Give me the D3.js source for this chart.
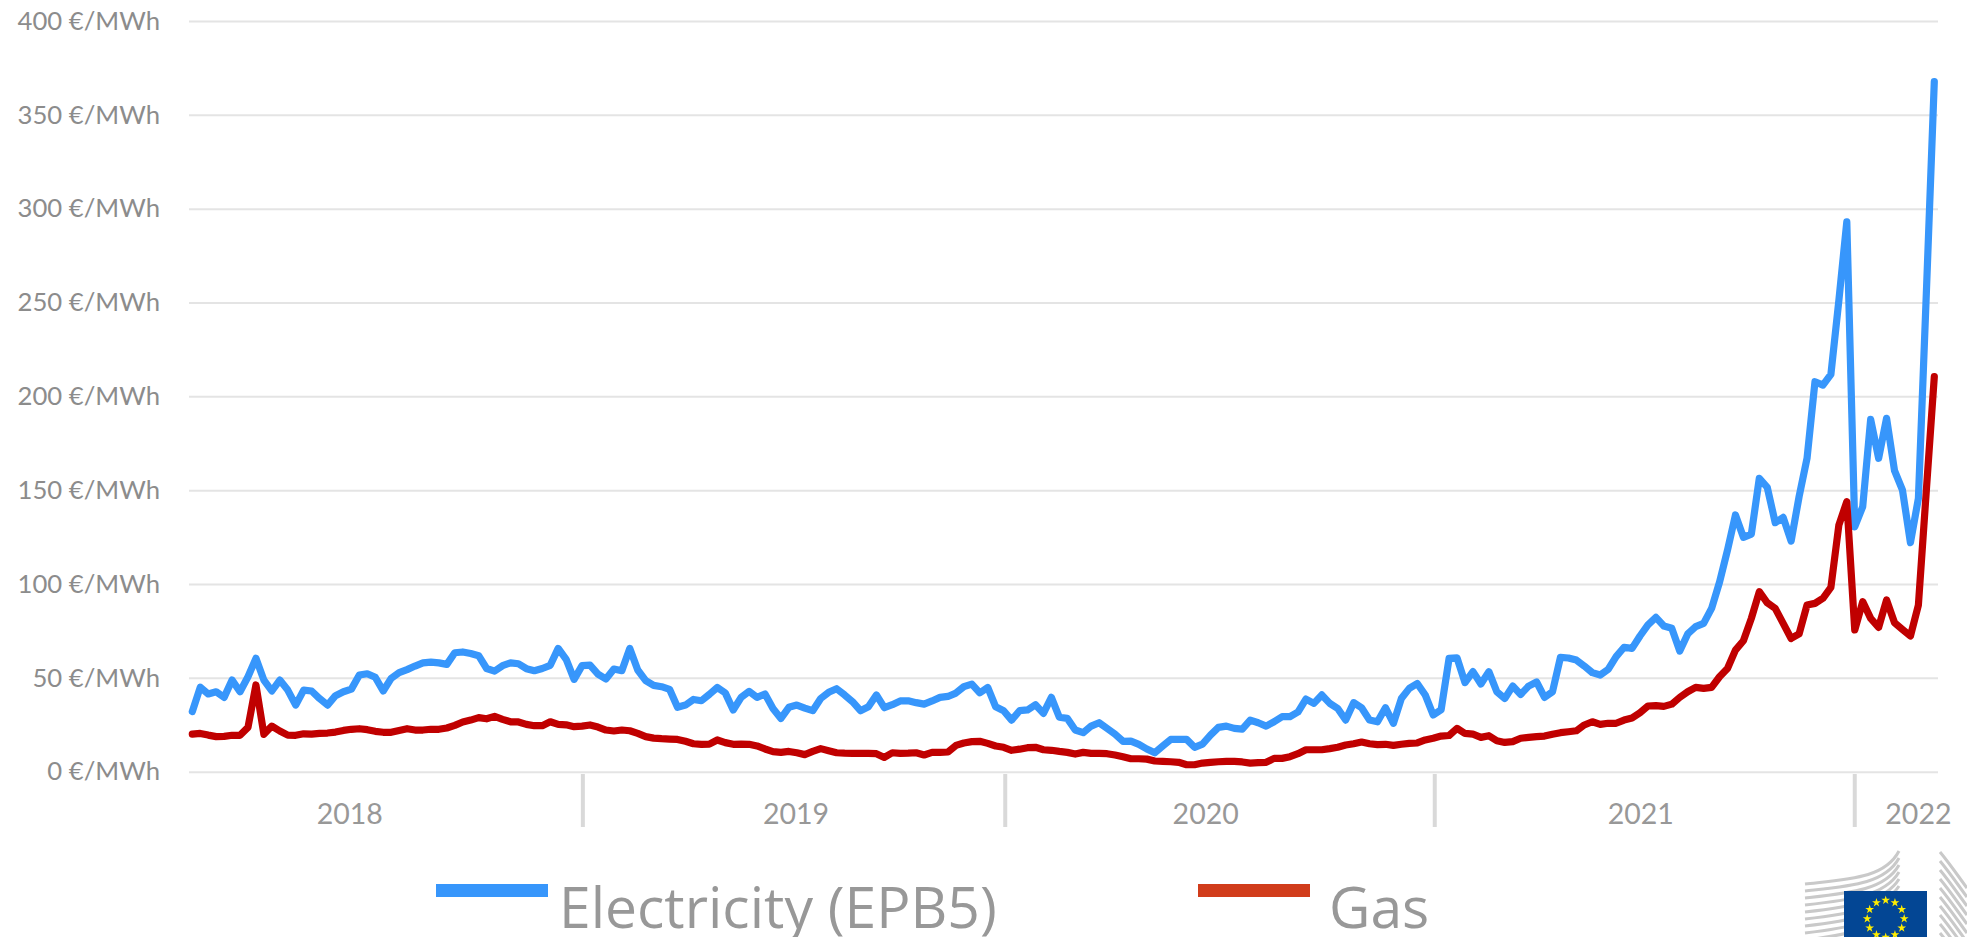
<!DOCTYPE html>
<html>
<head>
<meta charset="utf-8">
<style>
  html, body { margin: 0; padding: 0; background: #fff; overflow: hidden; }
  svg { display: block; }
  .y-axis text { font-family: Lato, sans-serif; font-size: 25.7px; fill: #8c8c8c; }
  .year-label { font-family: Lato, sans-serif; font-size: 28.5px; fill: #989898; text-anchor: middle; }
  .legend-label { font-family: "Open Sans", sans-serif; font-size: 57px; fill: #989898; }
</style>
<script src="https://cdn.jsdelivr.net/npm/d3@7"></script>
</head>
<body>
<div id="chart"></div>
<script>
// weekly prices in EUR/MWh
const electricity = [
  32, 45, 41.4, 42.6, 39.6, 48.8, 42.6, 50.6, 60.4, 48.8,
  43, 48.8, 43.5, 35.5, 43.5, 43, 39, 35.5, 40.5, 42.6,
  44, 51.5, 52.2, 50.3, 43, 49.7, 52.8, 54.4, 56.3, 58,
  58.4, 58, 57.2, 63.4, 63.8, 63, 61.8, 55, 53.6, 56.5,
  58, 57.5, 54.9, 53.8, 55, 56.7, 65.7, 59.9, 49.2, 56.5,
  56.8, 52, 49.4, 54.7, 53.8, 65.7, 54.2, 48.5, 46, 45.3,
  43.9, 34.3, 35.5, 38.5, 37.8, 41.2, 44.9, 42, 32.9, 39.6,
  42.8, 39.6, 41.4, 33.7, 28.4, 34.3, 35.5, 33.9, 32.5, 39,
  42.3, 44.2, 40.9, 37.3, 32.5, 34.6, 40.9, 34.1, 35.7, 37.7,
  37.8, 36.8, 36, 37.7, 39.6, 40.1, 41.9, 45.3, 46.7, 42,
  44.9, 34.6, 32.5, 27.5, 32.5, 32.9, 35.7, 31.1, 39.6, 29,
  28.4, 22.2, 20.8, 24.3, 26.1, 23.1, 20, 16.2, 16.3, 14.6,
  12.1, 10.1, 13.7, 17.2, 17.2, 17.2, 13, 14.7, 19.5, 23.6,
  24.3, 23.1, 22.7, 27.5, 26.1, 24.3, 26.6, 29.3, 29.3, 31.8,
  38.7, 36.4, 40.9, 36.4, 33.7, 27.5, 36.8, 34.1, 27.5, 26.6,
  34.1, 25.8, 39, 44.4, 47, 40.9, 30.2, 33, 60.4, 60.7,
  47.5, 53.3, 46.7, 53.3, 42.6, 39, 45.6, 41.2, 45.6, 47.8,
  39.6, 42.6, 60.9, 60.6, 59.5, 56.3, 52.8, 51.5, 54.5, 61.3,
  66.3, 65.7, 72.3, 78.2, 82.2, 77.6, 76.4, 64.3, 73.4, 77.3,
  79, 87, 101, 118, 136.8, 124.9, 126.6, 156.3, 151.5, 132.7,
  135.5, 122.9, 146.5, 167, 207.8, 206, 211.7, 251, 293, 130.5,
  141.2, 187.7, 167, 188.3, 160.4, 150, 122, 145.6, 255, 367.7
];

const gas = [
  20, 20.4, 19.5, 18.7, 18.8, 19.4, 19.4, 23.6, 46.2, 19.9,
  24.3, 21.7, 19.5, 19.4, 20.2, 20, 20.4, 20.6, 21.1, 22,
  22.6, 22.9, 22.4, 21.5, 21, 21, 22, 22.9, 22.2, 22.2,
  22.6, 22.6, 23.3, 24.7, 26.5, 27.5, 28.8, 28.2, 29.5, 27.9,
  26.6, 26.5, 25.2, 24.5, 24.5, 26.6, 25.2, 25, 24, 24.3,
  24.9, 23.8, 22.2, 21.7, 22.2, 21.8, 20.4, 18.7, 17.9, 17.6,
  17.4, 17.2, 16.2, 14.9, 14.6, 14.7, 16.9, 15.5, 14.6, 14.7,
  14.6, 13.7, 12.1, 10.7, 10.3, 10.8, 10.1, 9.1, 10.8, 12.3,
  11.2, 10.1, 9.9, 9.8, 9.8, 9.8, 9.6, 7.6, 10.1, 9.8,
  9.9, 10.1, 8.9, 10.3, 10.3, 10.5, 14, 15.3, 16, 16.2,
  15.1, 13.7, 13, 11.4, 12, 12.8, 13, 11.7, 11.4, 10.8,
  10.3, 9.4, 10.3, 9.8, 9.8, 9.6, 8.9, 8, 6.9, 6.9,
  6.7, 5.7, 5.5, 5.3, 5, 3.7, 3.7, 4.6, 5, 5.3,
  5.5, 5.5, 5.2, 4.6, 4.8, 5, 7.1, 7.1, 8, 9.6,
  11.7, 11.7, 11.7, 12.3, 13, 14.2, 14.9, 15.8, 14.9, 14.4,
  14.6, 14, 14.6, 15.1, 15.3, 16.9, 17.8, 19, 19.3, 23.1,
  20.4, 20, 18.3, 19.2, 16.5, 15.6, 16, 17.8, 18.3, 18.7,
  19, 20, 20.8, 21.3, 21.8, 24.9, 26.6, 25.2, 25.8, 25.8,
  27.5, 28.6, 31.4, 35, 35.2, 34.8, 36, 39.6, 42.6, 44.9,
  44.4, 44.9, 50.6, 55, 64.8, 69.8, 81.7, 95.9, 90, 87,
  79, 71, 73.4, 88.8, 89.7, 92.4, 98.2, 131.4, 143.9, 75.5,
  90.6, 81.7, 76.9, 91.5, 79.4, 75.8, 72.3, 88.8, 150, 210.5
];

const yTicks = [0, 50, 100, 150, 200, 250, 300, 350, 400];
const yearLabels = ['2018', '2019', '2020', '2021', '2022'];
// week index where each year label is centred, and where the year separators sit
const yearLabelWeeks = [19.8, 75.9, 127.4, 182.1, 217];
const yearBreakWeeks = [49.1, 102.2, 156.2, 209];

const seriesNames = ['Electricity (EPB5)', 'Gas'];
const seriesColors = ['#3796fb', '#c00000'];
const legendColors = ['#3796fb', '#d13c1b'];

const width = 1967;
const height = 937;

const svg = d3.select('#chart')
  .append('svg')
  .attr('width', width)
  .attr('height', height);

const x = d3.scaleLinear().domain([0, electricity.length - 1]).range([192.3, 1934.3]);
const y = d3.scaleLinear().domain([0, 400]).range([771.7, 21]);

// y axis with full width gridlines
const yAxis = svg.append('g')
  .attr('class', 'y-axis')
  .attr('transform', 'translate(189,0)')
  .call(d3.axisLeft(y)
    .tickValues(yTicks)
    .tickSize(-1749)
    .tickPadding(29)
    .tickFormat(d => `${d} €/MWh`));
yAxis.select('.domain').remove();
yAxis.selectAll('.tick line').attr('stroke', '#e4e4e4').attr('stroke-width', 2);

// year separators and labels
svg.append('g')
  .selectAll('line')
  .data(yearBreakWeeks)
  .join('line')
  .attr('x1', d => x(d))
  .attr('x2', d => x(d))
  .attr('y1', 774)
  .attr('y2', 827)
  .attr('stroke', '#d9d9d9')
  .attr('stroke-width', 4);

svg.append('g')
  .selectAll('text')
  .data(yearLabels)
  .join('text')
  .attr('class', 'year-label')
  .attr('x', (d, i) => x(yearLabelWeeks[i]))
  .attr('y', 824)
  .text(d => d);

// the two price lines, gas on top
const line = d3.line()
  .x((d, i) => x(i))
  .y(d => y(d));

svg.append('g')
  .selectAll('path')
  .data([electricity, gas])
  .join('path')
  .attr('d', line)
  .attr('fill', 'none')
  .attr('stroke', (d, i) => seriesColors[i])
  .attr('stroke-width', 7.2)
  .attr('stroke-linejoin', 'round')
  .attr('stroke-linecap', 'round');

// legend
const legendSwatchX = [436, 1198];
const legendTextX = [559, 1329];

svg.append('g')
  .selectAll('rect')
  .data(seriesNames)
  .join('rect')
  .attr('x', (d, i) => legendSwatchX[i])
  .attr('y', 884)
  .attr('width', 112)
  .attr('height', 13)
  .attr('fill', (d, i) => legendColors[i]);

svg.append('g')
  .selectAll('text')
  .data(seriesNames)
  .join('text')
  .attr('class', 'legend-label')
  .attr('x', (d, i) => legendTextX[i])
  .attr('y', 928)
  .text(d => d);

// European Commission logo, cut off by the bottom edge like in the original
const logo = svg.append('g');

d3.range(10).forEach(k => {
  logo.append('path')
    .attr('d', `M1805,${884 + k * 7} C1850,${879 + k * 7} 1885,${878 + k * 6} 1899,${851 + k * 7}`)
    .attr('fill', 'none')
    .attr('stroke', '#c9c9c9')
    .attr('stroke-width', 3);
  logo.append('path')
    .attr('d', `M1940,${852 + k * 9} C1950,${864 + k * 9} 1958,${876 + k * 9} 1967,${888 + k * 9}`)
    .attr('fill', 'none')
    .attr('stroke', '#c9c9c9')
    .attr('stroke-width', 3);
});

logo.append('rect')
  .attr('x', 1844)
  .attr('y', 891)
  .attr('width', 83)
  .attr('height', 46)
  .attr('fill', '#034694');

const star = d3.symbol().type(d3.symbolStar).size(24);
d3.range(12).forEach(k => {
  const a = k * Math.PI / 6;
  logo.append('path')
    .attr('d', star)
    .attr('transform', `translate(${1885.7 + 18.5 * Math.sin(a)},${918.7 - 18.5 * Math.cos(a)})`)
    .attr('fill', '#ffed00');
});
</script>
</body>
</html>
